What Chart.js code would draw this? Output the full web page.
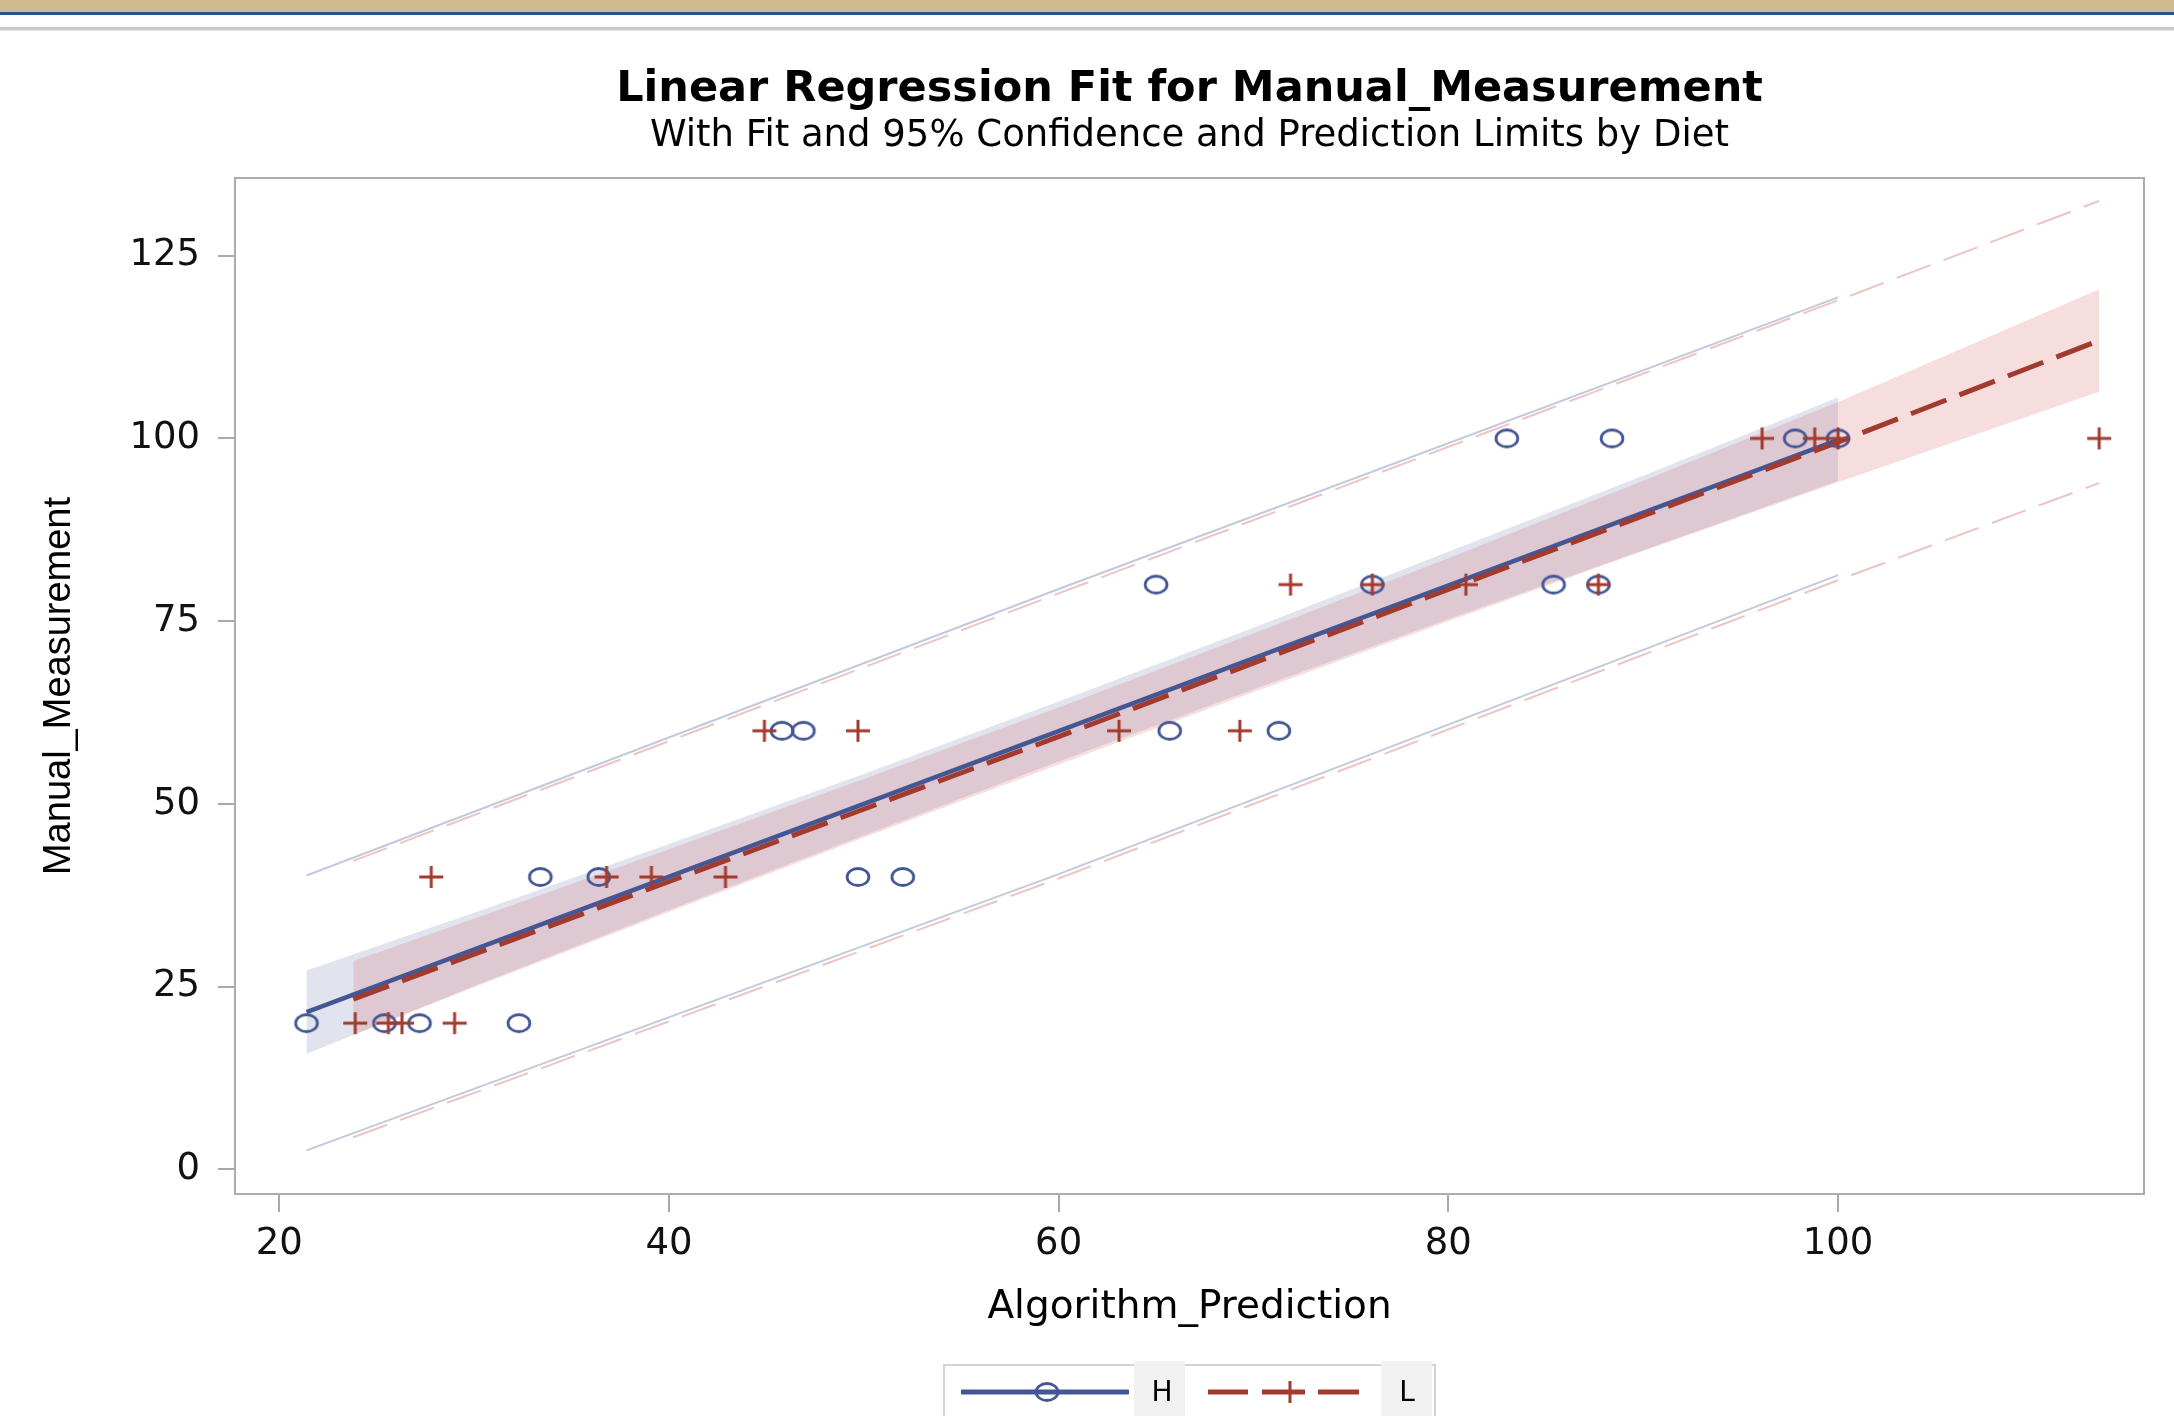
<!DOCTYPE html>
<html>
<head>
<meta charset="utf-8">
<script src="https://cdn.jsdelivr.net/npm/chart.js@4.4.1/dist/chart.umd.min.js"></script>
<style>
html, body { margin: 0; padding: 0; background: #ffffff; }
#wrap { position: relative; width: 2174px; height: 1416px; overflow: hidden; background: #ffffff; }
#c { position: absolute; left: 0; top: 0; }
.bar { position: absolute; left: 0; width: 2174px; }
</style>
</head>
<body>
<div id="wrap">
  <canvas id="c" width="2174" height="1416"></canvas>
  <div class="bar" style="top:0;height:12px;background:#D1BA8F"></div>
  <div class="bar" style="top:12px;height:3px;background:#2E5090"></div>
  <div class="bar" style="top:27px;height:3px;background:#cbcbcb"></div>
  <div class="bar" style="top:30px;height:1px;background:#e6e6e6"></div>
</div>
<script>
// ---------------- data ----------------
const titleText = 'Linear Regression Fit for Manual_Measurement';
const subtitleText = 'With Fit and 95% Confidence and Prediction Limits by Diet';
const xLabel = 'Algorithm_Prediction';
const yLabel = 'Manual_Measurement';
const groupNames = ['H', 'L'];

const xTicks = [20, 40, 60, 80, 100];
const yTicks = [0, 25, 50, 75, 100, 125];
const xRange = [17.73, 115.7];
const yRange = [-3.37, 135.63];

// observations, Diet = H
const hX = [21.4, 25.4, 27.2, 32.3, 33.4, 36.4, 49.7, 52.0, 45.8, 46.9, 65.7, 71.3, 65.0, 76.1, 85.4, 87.7, 83.0, 88.4, 97.8, 100.0];
const hY = [20, 20, 20, 20, 40, 40, 40, 40, 60, 60, 60, 60, 80, 80, 80, 80, 100, 100, 100, 100];
// observations, Diet = L
const lX = [23.9, 25.6, 26.3, 29.0, 27.8, 36.8, 39.1, 42.9, 44.9, 49.7, 63.1, 69.3, 71.9, 76.1, 80.9, 87.7, 96.1, 98.8, 100.0, 113.4];
const lY = [20, 20, 20, 20, 40, 40, 40, 40, 60, 60, 60, 60, 80, 80, 80, 80, 100, 100, 100, 100];

// fitted lines
const hFitX = [21.4, 100];
const hFitY = [21.5, 99.8];
const lFitX = [23.8, 60, 100, 113.4];
const lFitY = [23.3, 59.2, 99.5, 113.4];

// 95% confidence limits (band)
const hBandX = [21.4, 30, 40, 50, 60, 70, 80, 90, 100];
const hBandUpper = [27.2, 35.1, 44.5, 54.1, 64.0, 74.1, 84.5, 94.9, 105.6];
const hBandLower = [15.8, 25.1, 35.5, 45.7, 55.8, 65.7, 75.3, 84.7, 94.2];
const lBandX = [23.8, 30, 40, 50, 60, 70, 80, 90, 100, 113.4];
const lBandUpper = [28.5, 34.3, 43.8, 53.4, 63.2, 73.3, 83.6, 94.2, 105.0, 120.4];
const lBandLower = [18.4, 24.9, 35.2, 45.4, 55.4, 65.3, 75.0, 84.6, 94.0, 106.4];

// 95% prediction limits
const hPredX = [21.4, 60, 100];
const hPredUpper = [40.2, 79.4, 119.3];
const hPredLower = [2.6, 40.4, 81.3];
const lPredX = [23.8, 60, 100, 113.4];
const lPredUpper = [42.2, 78.8, 118.9, 132.5];
const lPredLower = [4.4, 39.8, 80.6, 93.9];

// ---------------- styles ----------------
const C_H = '#445694';
const C_L = '#A23A2E';
const BAND_H = 'rgba(111,126,179,0.21)';
const BAND_L = 'rgba(208,91,91,0.20)';
const PRED_H = 'rgba(68,86,148,0.32)';
const PRED_L = 'rgba(200,75,75,0.33)';
const FIT_DASH = [38, 14];
const PRED_DASH = [36, 14];

const pts = (xs, ys) => xs.map((x, i) => ({ x: x, y: ys[i] }));

function circleMarker() {
  const c = document.createElement('canvas');
  c.width = 30; c.height = 24;
  const g = c.getContext('2d');
  g.strokeStyle = C_H; g.lineWidth = 2.8;
  g.beginPath(); g.ellipse(15, 12, 10.9, 8.5, 0, 0, Math.PI * 2); g.stroke();
  return c;
}
function plusMarker() {
  const c = document.createElement('canvas');
  c.width = 26; c.height = 24;
  const g = c.getContext('2d');
  g.strokeStyle = C_L; g.lineWidth = 3;
  g.beginPath(); g.moveTo(1, 12); g.lineTo(25, 12); g.moveTo(13, 1); g.lineTo(13, 23); g.stroke();
  return c;
}
const hMarker = circleMarker();
const lMarker = plusMarker();

const base = { tension: 0, pointRadius: 0, pointHoverRadius: 0 };

const datasets = [
  Object.assign({}, base, { label: 'H CLM upper', data: pts(hBandX, hBandUpper), borderWidth: 0, borderColor: 'rgba(0,0,0,0)', backgroundColor: BAND_H, fill: { target: 1 }, order: 30 }),
  Object.assign({}, base, { label: 'H CLM lower', data: pts(hBandX, hBandLower), borderWidth: 0, borderColor: 'rgba(0,0,0,0)', fill: false, order: 31 }),
  Object.assign({}, base, { label: 'L CLM upper', data: pts(lBandX, lBandUpper), borderWidth: 0, borderColor: 'rgba(0,0,0,0)', backgroundColor: BAND_L, fill: { target: 3 }, order: 28 }),
  Object.assign({}, base, { label: 'L CLM lower', data: pts(lBandX, lBandLower), borderWidth: 0, borderColor: 'rgba(0,0,0,0)', fill: false, order: 29 }),
  Object.assign({}, base, { label: 'H PL upper', data: pts(hPredX, hPredUpper), borderWidth: 2, borderColor: PRED_H, fill: false, order: 22 }),
  Object.assign({}, base, { label: 'H PL lower', data: pts(hPredX, hPredLower), borderWidth: 2, borderColor: PRED_H, fill: false, order: 22 }),
  Object.assign({}, base, { label: 'L PL upper', data: pts(lPredX, lPredUpper), borderWidth: 2, borderColor: PRED_L, borderDash: PRED_DASH, fill: false, order: 21 }),
  Object.assign({}, base, { label: 'L PL lower', data: pts(lPredX, lPredLower), borderWidth: 2, borderColor: PRED_L, borderDash: PRED_DASH, fill: false, order: 21 }),
  Object.assign({}, base, { label: 'H fit', data: pts(hFitX, hFitY), borderWidth: 4.5, borderColor: C_H, fill: false, order: 12 }),
  Object.assign({}, base, { label: 'L fit', data: pts(lFitX, lFitY), borderWidth: 5, borderColor: C_L, borderDash: FIT_DASH, fill: false, order: 11 }),
  { label: 'H', data: pts(hX, hY), showLine: false, pointStyle: hMarker, pointRadius: 10, pointHoverRadius: 10, order: 2 },
  { label: 'L', data: pts(lX, lY), showLine: false, pointStyle: lMarker, pointRadius: 10, pointHoverRadius: 10, order: 1 }
];

const framePlugin = {
  id: 'frame',
  afterDraw(chart) {
    const a = chart.chartArea, ctx = chart.ctx;
    ctx.save();
    ctx.strokeStyle = '#a9adb1';
    ctx.lineWidth = 2;
    ctx.strokeRect(a.left, a.top, a.right - a.left, a.bottom - a.top);
    ctx.restore();
  }
};

const sasLegend = {
  id: 'sasLegend',
  afterDraw(chart) {
    const ctx = chart.ctx;
    ctx.save();
    ctx.fillStyle = '#ffffff';
    ctx.fillRect(944, 1365, 491, 60);
    ctx.strokeStyle = '#d3d3d3';
    ctx.lineWidth = 2;
    ctx.strokeRect(944, 1365, 491, 70);
    ctx.fillStyle = '#f1f1f1';
    ctx.fillRect(1134, 1361, 51, 60);
    ctx.fillRect(1381, 1361, 51, 60);
    const ly = 1392;
    ctx.lineCap = 'butt';
    ctx.strokeStyle = C_H; ctx.lineWidth = 5;
    ctx.beginPath(); ctx.moveTo(961, ly); ctx.lineTo(1129, ly); ctx.stroke();
    ctx.drawImage(hMarker, 1047 - hMarker.width / 2, ly - hMarker.height / 2);
    ctx.strokeStyle = C_L; ctx.lineWidth = 5;
    ctx.beginPath();
    [[1208, 1248], [1262, 1305], [1318, 1359]].forEach(function (s) { ctx.moveTo(s[0], ly); ctx.lineTo(s[1], ly); });
    ctx.stroke();
    ctx.drawImage(lMarker, 1290 - lMarker.width / 2, ly - lMarker.height / 2);
    ctx.fillStyle = '#000000';
    ctx.font = '28px "DejaVu Sans"';
    ctx.textAlign = 'center';
    ctx.textBaseline = 'alphabetic';
    ctx.fillText(groupNames[0], 1162, 1401);
    ctx.fillText(groupNames[1], 1407, 1401);
    ctx.restore();
  }
};

new Chart(document.getElementById('c'), {
  type: 'line',
  data: { datasets: datasets },
  plugins: [framePlugin, sasLegend],
  options: {
    responsive: false,
    animation: false,
    devicePixelRatio: 1,
    events: [],
    layout: { padding: { left: 0, right: 30, top: 0, bottom: 0 } },
    plugins: {
      legend: { display: false },
      tooltip: { enabled: false },
      title: {
        display: true, text: titleText, color: '#000000', fullSize: false,
        font: { family: 'DejaVu Sans', weight: 'bold', size: 43, lineHeight: 1 },
        padding: { top: 68, bottom: 0 }
      },
      subtitle: {
        display: true, text: subtitleText, color: '#000000', fullSize: false,
        font: { family: 'DejaVu Sans', size: 37, lineHeight: 1 },
        padding: { top: 6.4, bottom: 23.6 }
      }
    },
    scales: {
      x: {
        type: 'linear', position: 'bottom',
        min: xRange[0], max: xRange[1],
        afterBuildTicks: function (axis) { axis.ticks = xTicks.map(function (v) { return { value: v }; }); },
        afterFit: function (axis) { axis.height = 222; },
        ticks: { color: '#111111', font: { family: 'DejaVu Sans', size: 37 }, padding: 10, maxRotation: 0, autoSkip: false },
        grid: { drawOnChartArea: false, drawTicks: true, tickLength: 18, color: '#a6aaae', lineWidth: 2 },
        border: { display: false },
        title: { display: true, text: xLabel, color: '#000000', font: { family: 'DejaVu Sans', size: 39 }, padding: { top: 0, bottom: 85 } }
      },
      y: {
        type: 'linear', position: 'left',
        min: yRange[0], max: yRange[1],
        afterBuildTicks: function (axis) { axis.ticks = yTicks.map(function (v) { return { value: v }; }); },
        afterFit: function (axis) { axis.width = 235; },
        ticks: { color: '#111111', font: { family: 'DejaVu Sans', size: 37 }, padding: 18, autoSkip: false },
        grid: { drawOnChartArea: false, drawTicks: true, tickLength: 17, color: '#a6aaae', lineWidth: 2 },
        border: { display: false },
        title: { display: true, text: yLabel, color: '#000000', font: { family: 'Liberation Sans', size: 38 }, padding: { top: 37, bottom: 0 } }
      }
    }
  }
});
</script>
</body>
</html>
